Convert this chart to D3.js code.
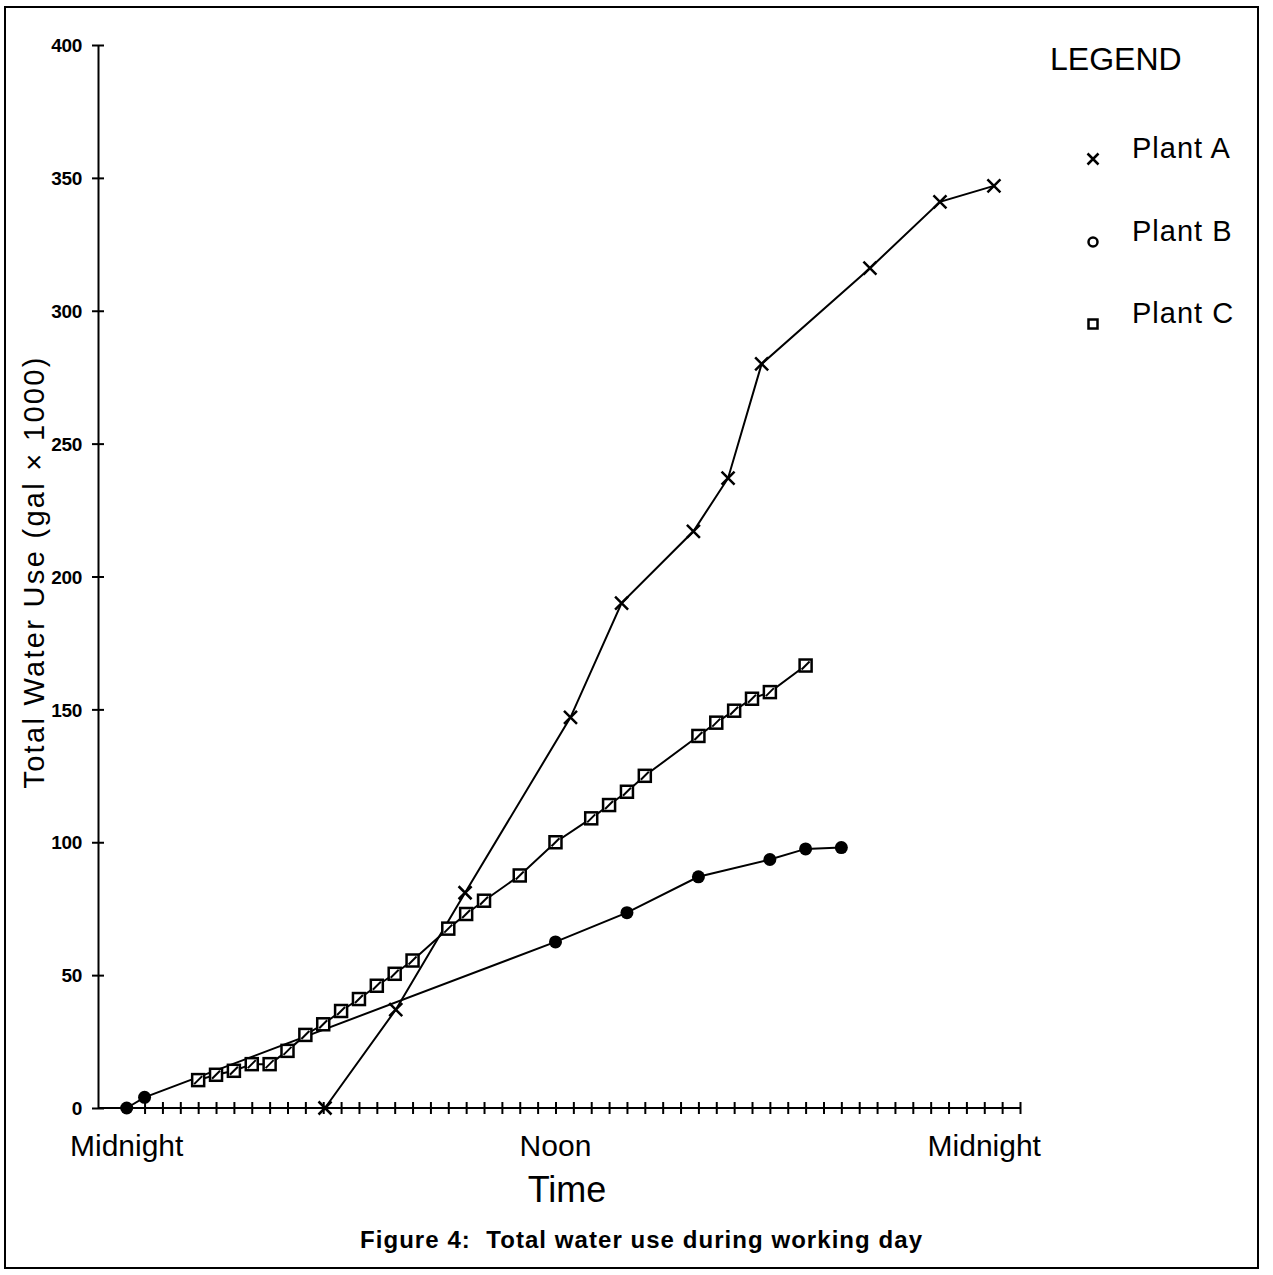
<!DOCTYPE html>
<html>
<head>
<meta charset="utf-8">
<script src="https://cdn.jsdelivr.net/npm/d3@7"></script>
<style>
  body { margin: 0; background: #fff; }
  svg text { font-family: "Liberation Sans", Arial, sans-serif; fill: #000; }
</style>
</head>
<body>
<div id="chart"></div>
<script>
// dati (ore dalla mezzanotte, galloni x 1000)
const hoursA = [5.55, 7.53, 9.47, 12.42, 13.85, 15.86, 16.83, 17.77, 20.8, 22.76, 24.27];
const plantA = [0, 37, 81, 147, 190, 217, 237, 280, 316, 341, 347];

const hoursB = [0, 0.5, 12, 14, 16, 18, 19, 20];
const plantB = [0, 4, 62.5, 73.5, 87, 93.5, 97.5, 98];

const hoursC = [2, 2.5, 3, 3.5, 4, 4.5, 5, 5.5, 6, 6.5, 7, 7.5, 8, 9, 9.5, 10, 11, 12, 13, 13.5, 14, 14.5, 16, 16.5, 17, 17.5, 18, 19];
const plantC = [10.5, 12.5, 14, 16.5, 16.5, 21.5, 27.5, 31.5, 36.5, 41, 46, 50.5, 55.5, 67.5, 73, 78, 87.5, 100, 109, 114, 119, 125, 140, 145, 149.5, 154, 156.5, 166.5];

const yTicks = [0, 50, 100, 150, 200, 250, 300, 350, 400];
const xLabels = [{ h: 0, t: 'Midnight' }, { h: 12, t: 'Noon' }, { h: 24, t: 'Midnight' }];
const legendItems = ['Plant A', 'Plant B', 'Plant C'];

const width = 1273;
const height = 1275;

const svg = d3.select('#chart').append('svg')
    .attr('width', width)
    .attr('height', height);

// cornice esterna
svg.append('rect')
    .attr('x', 5).attr('y', 7)
    .attr('width', 1253).attr('height', 1261)
    .attr('fill', 'none')
    .attr('stroke', '#000')
    .attr('stroke-width', 2);

const x = d3.scaleLinear().domain([0, 25]).range([126.7, 1020]);
const y = d3.scaleLinear().domain([0, 400]).range([1108, 45]);
const axisX = 98; // posizione dell'asse verticale

// asse Y
const gy = svg.append('g')
    .attr('transform', `translate(${axisX},0)`)
    .call(d3.axisLeft(y).tickValues(yTicks).tickSize(6).tickPadding(10).tickSizeOuter(0));
gy.select('.domain').attr('stroke-width', 2);
gy.selectAll('.tick line').attr('x1', -6).attr('x2', 6).attr('stroke-width', 2);
gy.selectAll('.tick text')
    .style('font-size', '19px')
    .style('font-weight', 'bold')
    .style('letter-spacing', '-0.3px')
    .attr('dy', '0.35em');

// asse X con tacche ogni mezz'ora
const gx = svg.append('g')
    .attr('transform', `translate(0,${y(0)})`)
    .call(d3.axisBottom(x).tickValues(d3.range(0, 25.01, 0.5)).tickSize(6).tickFormat('').tickSizeOuter(0));
gx.select('.domain').remove();
gx.append('line')
    .attr('x1', axisX).attr('x2', x(25))
    .attr('stroke', '#000').attr('stroke-width', 2);
gx.selectAll('.tick line').attr('y1', -6).attr('y2', 6).attr('stroke-width', 2);

svg.selectAll('text.xlab')
    .data(xLabels)
    .enter().append('text')
    .attr('class', 'xlab')
    .attr('x', d => x(d.h))
    .attr('y', 1156)
    .style('font-size', '30px')
    .style('text-anchor', 'middle')
    .text(d => d.t);

svg.append('text')
    .attr('x', 567)
    .attr('y', 1202)
    .style('font-size', '36px')
    .style('text-anchor', 'middle')
    .text('Time');

svg.append('text')
    .attr('transform', 'translate(44,572) rotate(-90)')
    .style('font-size', '29px')
    .style('letter-spacing', '2.3px')
    .style('text-anchor', 'middle')
    .text('Total Water Use (gal \u00d7 1000)');

svg.append('text')
    .attr('x', 641)
    .attr('y', 1248)
    .style('font-size', '24px')
    .style('font-weight', 'bold')
    .style('text-anchor', 'middle')
    .attr('textLength', 562)
    .attr('lengthAdjust', 'spacing')
    .text('Figure 4:\u00a0\u00a0Total water use during working day');

// linee
const line = d3.line().x(d => x(d[0])).y(d => y(d[1]));
const seriesA = hoursA.map((h, i) => [h, plantA[i]]);
const seriesB = hoursB.map((h, i) => [h, plantB[i]]);
const seriesC = hoursC.map((h, i) => [h, plantC[i]]);

[seriesA, seriesB, seriesC].forEach(s => {
    svg.append('path')
        .attr('d', line(s))
        .attr('fill', 'none')
        .attr('stroke', '#000')
        .attr('stroke-width', 2);
});

// marcatori
function drawCross(g, cx, cy, r, w) {
    g.append('path')
        .attr('d', `M${cx - r},${cy - r}L${cx + r},${cy + r}M${cx - r},${cy + r}L${cx + r},${cy - r}`)
        .attr('stroke', '#000').attr('stroke-width', w).attr('fill', 'none');
}

seriesA.forEach(d => drawCross(svg, x(d[0]), y(d[1]), 6.5, 2.5));

svg.selectAll('circle.b')
    .data(seriesB)
    .enter().append('circle')
    .attr('class', 'b')
    .attr('cx', d => x(d[0]))
    .attr('cy', d => y(d[1]))
    .attr('r', 6.5)
    .attr('fill', '#000');

const sq = svg.selectAll('g.c')
    .data(seriesC)
    .enter().append('g')
    .attr('class', 'c')
    .attr('transform', d => `translate(${x(d[0])},${y(d[1])})`);
sq.append('rect')
    .attr('x', -6).attr('y', -6)
    .attr('width', 12).attr('height', 12)
    .attr('fill', '#fff')
    .attr('stroke', '#000')
    .attr('stroke-width', 2.5);
sq.append('path')
    .attr('d', 'M-4,4L4,-4')
    .attr('stroke', '#000')
    .attr('stroke-width', 2);

// legenda
svg.append('text')
    .attr('x', 1050)
    .attr('y', 70)
    .style('font-size', '32px')
    .text('LEGEND');

const legY = [157, 240, 322];
legendItems.forEach((name, i) => {
    svg.append('text')
        .attr('x', 1132)
        .attr('y', legY[i] + 1)
        .style('font-size', '29px')
        .style('letter-spacing', '1px')
        .text(name);
});
drawCross(svg, 1093, legY[0] + 2, 5.5, 2.5);
svg.append('circle')
    .attr('cx', 1093).attr('cy', legY[1] + 2).attr('r', 4.5)
    .attr('fill', 'none').attr('stroke', '#000').attr('stroke-width', 2.5);
svg.append('rect')
    .attr('x', 1088.5).attr('y', legY[2] - 2.5).attr('width', 9).attr('height', 9)
    .attr('fill', 'none').attr('stroke', '#000').attr('stroke-width', 2.5);
</script>
</body>
</html>
